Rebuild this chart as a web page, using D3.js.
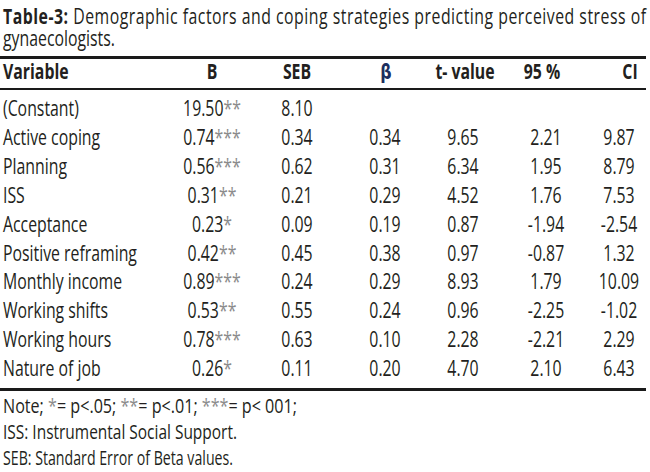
<!DOCTYPE html>
<html>
<head>
<meta charset="utf-8">
<script src="https://cdn.jsdelivr.net/npm/d3@7"></script>
<style>
  html, body { margin: 0; padding: 0; background: #fff; }
  svg { display: block; }
  text { font-family: "Open Sans", "Noto Sans", sans-serif; fill: #231f20; }
</style>
</head>
<body>
<svg id="chart" width="650" height="472"></svg>
<script>
const titleBold = "Table-3:";
const titleRest = " Demographic factors and coping strategies predicting perceived stress of";
const titleLine2 = "gynaecologists.";
const columns = ["Variable", "B", "SEB", "β", "t- value", "95 %", "CI"];
const variables = ["(Constant)", "Active coping", "Planning", "ISS", "Acceptance", "Positive reframing", "Monthly income", "Working shifts", "Working hours", "Nature of job"];
const bValues = ["19.50", "0.74", "0.56", "0.31", "0.23", "0.42", "0.89", "0.53", "0.78", "0.26"];
const bStars = ["**", "***", "***", "**", "*", "**", "***", "**", "***", "*"];
const sebValues = ["8.10", "0.34", "0.62", "0.21", "0.09", "0.45", "0.24", "0.55", "0.63", "0.11"];
const betaValues = ["", "0.34", "0.31", "0.29", "0.19", "0.38", "0.29", "0.24", "0.10", "0.20"];
const tValues = ["", "9.65", "6.34", "4.52", "0.87", "0.97", "8.93", "0.96", "2.28", "4.70"];
const ciLow = ["", "2.21", "1.95", "1.76", "-1.94", "-0.87", "1.79", "-2.25", "-2.21", "2.10"];
const ciHigh = ["", "9.87", "8.79", "7.53", "-2.54", "1.32", "10.09", "-1.02", "2.29", "6.43"];
const notes = [
  [["Note; ", 0], ["*", 1], ["= p<.05; ", 0], ["**", 1], ["=  p<.01; ", 0], ["***", 1], ["= p< 001;", 0]],
  [["ISS: Instrumental Social Support.", 0]],
  [["SEB: Standard Error of Beta values.", 0]]
];
const noteWidths = [294, 234, 230];

const svg = d3.select("#chart");
const fs = 22;
const starFill = "#8c8c8c";

// calibrate a condensed look: horizontal squeeze so text width matches the reference typeface
const probe = svg.append("text").attr("font-size", fs).text("Positive reframing");
const sx = 134 / probe.node().getComputedTextLength();
probe.remove();

const root = svg.append("g").attr("transform", `scale(${sx},1)`);
const X = v => v / sx;

// column positions (in screen px, converted to squeezed space)
const x = d3.scaleOrdinal().domain(columns).range([3, 212, 297, 385, 463, 546, 619].map(X));
const xh = d3.scaleOrdinal().domain(columns).range([3, 212, 297, 386, 465, 542, 630].map(X));
const anchor = c => c === "Variable" ? "start" : "middle";

// rows
const y = d3.scaleBand().domain(variables).range([95.5, 384.5]);
const baseOff = y.bandwidth() * 0.71;

// title (one text block, two lines)
const title = root.append("text").attr("font-size", fs);
const line1 = title.append("tspan").attr("x", X(3)).attr("y", 24)
  .attr("textLength", X(643)).attr("lengthAdjust", "spacing");
line1.append("tspan").attr("font-weight", "bold").text(titleBold);
line1.append("tspan").text(titleRest);
title.append("tspan").attr("x", X(3)).attr("y", 46).text(titleLine2);

// rules
const rule = (yy, w) => root.append("line").attr("x1", 0).attr("x2", X(646)).attr("y1", yy).attr("y2", yy)
  .attr("stroke", "#1a1a1a").attr("stroke-width", w);
rule(57.5, 3);
rule(89, 2);
rule(389.5, 3);

// header
root.selectAll("text.hdr").data(columns).join("text").attr("class", "hdr")
  .attr("x", d => xh(d)).attr("y", 79).attr("text-anchor", anchor)
  .attr("font-size", fs).attr("font-weight", "bold")
  .style("fill", d => d === "β" ? "#1c2f5e" : null)
  .style("font-family", d => d === "β" ? "'DejaVu Sans', sans-serif" : null)
  .text(d => d);

// body
const rows = variables.map((v, i) => ({
  v, cells: [v, null, sebValues[i], betaValues[i], tValues[i], ciLow[i], ciHigh[i]], b: bValues[i], s: bStars[i]
}));
const g = root.selectAll("g.row").data(rows).join("g").attr("class", "row")
  .attr("transform", d => `translate(0,${y(d.v) + baseOff})`);
columns.forEach((c, ci) => {
  if (c === "B") {
    const t = g.append("text").attr("x", x(c)).attr("text-anchor", "middle").attr("font-size", fs);
    t.append("tspan").text(d => d.b);
    t.append("tspan").style("fill", starFill).text(d => d.s);
  } else {
    g.append("text").attr("x", x(c)).attr("text-anchor", anchor(c)).attr("font-size", fs)
      .text(d => d.cells[ci]);
  }
});

// notes
const ny = d3.scalePoint().domain(d3.range(notes.length)).range([413, 465]);
notes.forEach((parts, i) => {
  const t = root.append("text").attr("x", X(3)).attr("y", ny(i)).attr("font-size", 20)
    .attr("textLength", X(noteWidths[i])).attr("lengthAdjust", "spacingAndGlyphs");
  parts.forEach(p => {
    const ts = t.append("tspan").text(p[0]);
    if (p[1]) ts.style("fill", starFill);
  });
});
</script>
</body>
</html>
